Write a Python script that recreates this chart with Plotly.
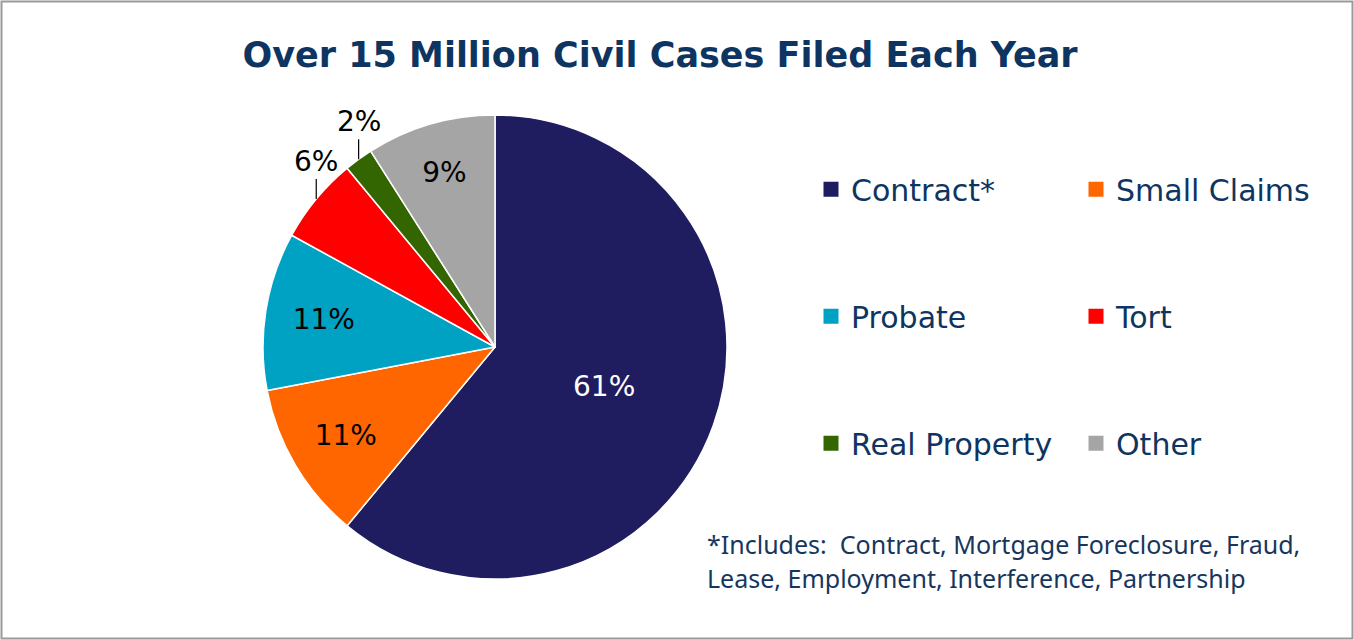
import math
import plotly.graph_objects as go

# ---- data ----
labels = ["Contract*", "Small Claims", "Probate", "Tort", "Real Property", "Other"]
values = [61, 11, 11, 6, 2, 9]
colors = ["#1F1D5F", "#FF6600", "#00A2C4", "#FF0000", "#336600", "#A5A5A5"]
text_positions = ["inside", "inside", "inside", "none", "none", "inside"]
text_colors = ["white", "black", "black", "black", "black", "black"]
legend_column = ["legend", "legend2", "legend", "legend2", "legend", "legend2"]
title_text = "Over 15 Million Civil Cases Filed Each Year"
footnote_lines = ["*Includes:  Contract, Mortgage Foreclosure, Fraud,",
                  "Lease, Employment, Interference, Partnership"]

W, H = 1354, 640
navy = "#0E3561"

# pie placement (pixels -> paper, margins are zero)
dom_x = [263 / W, 727 / W]
dom_y = [1 - 579 / H, 1 - 115 / H]

fig = go.Figure()
fig.add_trace(go.Pie(
    labels=labels, values=values, sort=False, direction="clockwise", rotation=0,
    marker=dict(colors=colors, line=dict(color="white", width=1.5)),
    textinfo="percent", textposition=text_positions,
    insidetextorientation="horizontal",
    textfont=dict(family="DejaVu Sans", size=28, color=text_colors),
    showlegend=False, domain=dict(x=dom_x, y=dom_y), hoverinfo="label+percent",
))

# legend entries (two columns)
for name, col, lg in zip(labels, colors, legend_column):
    fig.add_trace(go.Scatter(
        x=[None], y=[None], mode="markers", name=name,
        marker=dict(symbol="square", size=15, color=col),
        legend=lg, legendgroup=name, showlegend=True,
    ))

# outside labels with leader lines, positioned from the data
cx = (dom_x[0] + dom_x[1]) / 2
cy = (dom_y[0] + dom_y[1]) / 2
r_px = min((dom_x[1] - dom_x[0]) * W, (dom_y[1] - dom_y[0]) * H) / 2
total = sum(values)
cum = 0
annotations = []
for v, pos in zip(values, text_positions):
    mid = (cum + v / 2) / total * 2 * math.pi
    cum += v
    if pos != "none":
        continue
    px = cx + r_px * math.sin(mid) / W
    py = cy + r_px * math.cos(mid) / H
    annotations.append(dict(
        x=px, y=py, xref="paper", yref="paper", text=f"{round(v / total * 100)}%",
        showarrow=True, arrowhead=0, arrowwidth=1.2, arrowcolor="black",
        ax=0, ay=-38, font=dict(family="DejaVu Sans", size=28, color="black"),
    ))

for i, line in enumerate(footnote_lines):
    annotations.append(dict(
        x=705 / W, y=1 - (544 + 34 * i) / H, xref="paper", yref="paper",
        xanchor="left", yanchor="middle", showarrow=False, text=line,
        font=dict(family="Noto Sans", size=25, color="#17365D"),
    ))

legend_common = dict(
    font=dict(family="DejaVu Sans", size=30, color=navy),
    tracegroupgap=85, bgcolor="rgba(0,0,0,0)", yanchor="top", y=0.745,
    xanchor="left", itemclick=False, itemdoubleclick=False,
)

fig.update_layout(
    width=W, height=H, margin=dict(l=0, r=0, t=0, b=0),
    paper_bgcolor="white", plot_bgcolor="white",
    title=dict(text=f"<b>{title_text}</b>", x=660 / W, xanchor="center",
               y=1 - 55 / H, yanchor="middle",
               font=dict(family="DejaVu Sans", size=35, color=navy)),
    xaxis=dict(visible=False), yaxis=dict(visible=False),
    legend=dict(x=811 / W, **legend_common),
    legend2=dict(x=1076 / W, **legend_common),
    annotations=annotations,
    shapes=[dict(type="rect", xref="paper", yref="paper",
                 x0=1.5 / W, x1=1 - 1.5 / W, y0=1.5 / H, y1=1 - 1.5 / H,
                 line=dict(color="#9A9A9A", width=2), fillcolor="rgba(0,0,0,0)")],
)

fig.write_html("out.html")
